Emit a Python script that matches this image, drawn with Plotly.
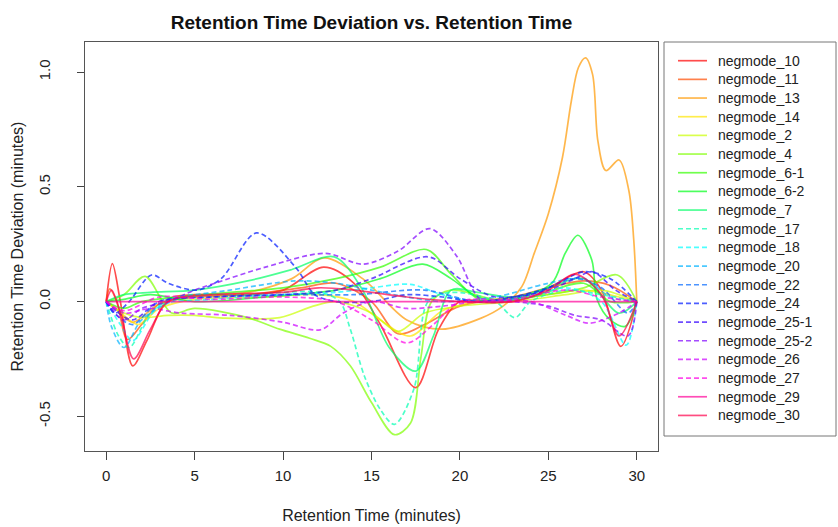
import colorsys
import plotly.graph_objects as go

# ---------------- data ----------------
SAMPLES = ["negmode_10", "negmode_11", "negmode_13", "negmode_14", "negmode_2",
           "negmode_4", "negmode_6-1", "negmode_6-2", "negmode_7", "negmode_17",
           "negmode_18", "negmode_20", "negmode_22", "negmode_24", "negmode_25-1",
           "negmode_25-2", "negmode_26", "negmode_27", "negmode_29", "negmode_30"]

rt_10 = [0, 0.35, 0.8, 1.5, 2.3, 3.5, 5, 8, 10, 12.3, 14, 15.5, 17.5, 18.8, 20, 22, 24, 25.5, 27, 28, 29.1, 30]
dev_10 = [0, 0.165, 0.0, -0.28, -0.17, 0.01, 0.03, 0.03, 0.05, 0.15, 0.08, -0.1, -0.375, -0.12, 0.0, 0.0, 0.02, 0.08, 0.13, 0.05, -0.195, 0]

rt_11 = [0, 0.2, 0.6, 1.2, 2, 3, 5, 8, 11, 13, 15, 16.5, 18, 20, 23, 25, 27, 28.5, 30]
dev_11 = [0, 0.055, 0.0, -0.165, -0.1, -0.01, 0.02, 0.03, 0.06, 0.08, 0.0, -0.14, -0.1, -0.02, 0.02, 0.06, 0.09, 0.07, 0]

rt_13 = [0, 0.5, 1.5, 3, 5, 8, 10.5, 12.3, 14.5, 17, 19, 21.2, 22.4, 23.5, 24.2, 25, 25.8, 26.3, 26.7, 27.1, 27.5, 27.8, 28.25, 29, 29.55, 29.83, 30]
dev_13 = [0, -0.03, -0.09, -0.01, 0.02, 0.04, 0.1, 0.19, 0.1, -0.08, -0.12, -0.072, -0.022, 0.065, 0.21, 0.383, 0.629, 0.874, 1.02, 1.062, 0.99, 0.70, 0.571, 0.617, 0.484, 0.267, 0]

rt_14 = [0, 0.7, 1.8, 3, 5, 9, 12, 14, 15.5, 17.2, 19, 21, 24, 27, 29, 30]
dev_14 = [0, -0.04, -0.1, -0.03, 0.01, 0.02, 0.03, 0.0, -0.08, -0.15, -0.04, 0.0, 0.02, 0.05, 0.02, 0]

rt_2 = [0, 1, 2, 3.5, 5, 6.6, 9.8, 11.7, 13, 15, 16.5, 18, 20, 23, 26, 28, 30]
dev_2 = [0, -0.05, -0.07, -0.06, -0.06, -0.072, -0.07, -0.02, 0.0, -0.05, -0.13, -0.05, -0.02, 0.0, 0.03, 0.05, 0]

rt_4 = [0, 1, 2.2, 3.7, 5, 8, 9.8, 11.5, 12.7, 13.8, 15, 16.3, 17.2, 17.8, 18.4, 19.5, 22, 25, 27, 28.9, 30]
dev_4 = [0, 0.03, 0.11, -0.05, -0.03, -0.07, -0.12, -0.16, -0.195, -0.28, -0.44, -0.58, -0.53, -0.24, 0.0, 0.05, 0.01, 0.03, 0.06, 0.116, 0]

rt_6_1 = [0, 1, 2, 4, 7, 10, 13, 15.5, 18.1, 19.5, 21.2, 24, 27, 28.5, 30]
dev_6_1 = [0, -0.03, 0.0, 0.02, 0.04, 0.06, 0.1, 0.15, 0.227, 0.12, 0.005, 0.02, 0.08, 0.0, 0]

rt_6_2 = [0, 1, 2.5, 5, 9, 13, 15.5, 17.9, 19.5, 21, 23, 25.2, 25.95, 26.67, 27.46, 27.75, 28.5, 29.35, 30]
dev_6_2 = [0, 0.01, 0.03, 0.0, 0.02, 0.05, 0.1, 0.163, 0.1, 0.02, 0.01, 0.08, 0.21, 0.289, 0.18, 0.01, -0.08, -0.108, 0]

rt_7 = [0, 1, 2.5, 5, 8, 10.5, 12.9, 14.5, 16, 17.5, 18.5, 19.5, 21, 23, 25, 27, 29, 30]
dev_7 = [0, 0.03, 0.04, 0.05, 0.09, 0.14, 0.195, 0.05, -0.2, -0.303, -0.15, 0.05, 0.04, 0.02, 0.06, 0.1, -0.05, 0]

rt_17 = [0, 0.7, 1.3, 2.5, 4, 8, 12, 13.2, 13.8, 14.6, 15.5, 16.3, 17.4, 18.2, 19.5, 22, 23.1, 24, 26, 28, 30]
dev_17 = [0, -0.15, -0.2, -0.05, 0.02, 0.03, 0.04, 0.0, -0.12, -0.325, -0.47, -0.535, -0.38, 0.0, 0.04, 0.0, -0.07, 0.0, 0.05, 0.03, 0]

rt_18 = [0, 0.8, 1.5, 3, 6, 10, 13, 15, 17.2, 19, 21, 24, 26, 28, 29.4, 30]
dev_18 = [0, -0.1, -0.17, -0.02, 0.01, 0.03, 0.04, 0.06, 0.075, 0.03, 0.0, 0.02, 0.06, 0.0, -0.19, 0]

rt_20 = [0, 0.3, 1.0, 2, 4, 7, 10.7, 13, 15, 17, 19, 22, 25, 27, 28.5, 30]
dev_20 = [0, -0.11, -0.2, -0.08, 0.01, 0.05, 0.09, 0.08, 0.05, 0.02, 0.0, 0.02, 0.08, 0.1, 0.02, 0]

rt_22 = [0, 0.6, 1.5, 3, 6, 10, 14, 18, 21, 24, 26.5, 28, 29.5, 30]
dev_22 = [0, -0.06, -0.1, 0.0, 0.02, 0.03, 0.03, 0.05, 0.0, 0.03, 0.1, 0.06, -0.05, 0]

rt_24 = [0, 0.5, 1.3, 2.56, 3.5, 5.1, 6.5, 8.5, 10.7, 11.8, 13, 15, 17, 19, 21, 23, 25, 27, 28.5, 30]
dev_24 = [0, -0.05, 0.0, 0.116, 0.08, 0.05, 0.1, 0.299, 0.15, 0.03, 0.0, 0.0, 0.03, 0.02, 0.0, 0.02, 0.06, 0.13, 0.1, 0]

rt_25_1 = [0, 0.7, 1.5, 3, 6, 10, 13, 15, 18.2, 20, 22, 25, 26.5, 27.5, 28.8, 30]
dev_25_1 = [0, -0.05, -0.08, 0.0, 0.02, 0.03, 0.05, 0.1, 0.195, 0.1, 0.02, 0.05, 0.1, 0.13, 0.05, 0]

rt_25_2 = [0, 1, 2, 3.5, 5, 6.15, 9, 12.4, 14.5, 16.5, 18.3, 19.8, 21.2, 23, 25, 26.5, 28, 29.5, 30]
dev_25_2 = [0, -0.08, -0.03, 0.0, 0.05, 0.08, 0.15, 0.21, 0.163, 0.22, 0.318, 0.2, 0.007, 0.0, -0.02, -0.06, -0.08, -0.15, 0]

rt_26 = [0, 1, 2.5, 4.2, 7, 10, 12.1, 13.4, 15, 17, 19, 21, 24, 26, 27.3, 29, 30]
dev_26 = [0, -0.05, -0.03, -0.05, -0.06, -0.09, -0.123, -0.05, 0.0, -0.03, -0.02, 0.0, 0.0, -0.06, -0.094, -0.05, 0]

rt_27 = [0, 1, 3, 6, 10, 13, 15, 17, 18.5, 20, 23, 26, 28, 30]
dev_27 = [0, -0.04, 0.02, 0.01, 0.02, 0.0, -0.08, -0.18, -0.1, 0.0, 0.01, 0.05, 0.02, 0]

rt_29 = [0, 10, 20, 30]
dev_29 = [0, 0, 0, 0]

rt_30 = [0, 0.3, 0.8, 1.55, 2.5, 3.5, 6, 10, 12, 14, 17, 20, 23, 25, 26.5, 28, 29, 30]
dev_30 = [0, 0.05, -0.05, -0.25, -0.12, 0.0, 0.03, 0.04, 0.06, 0.05, 0.02, 0.0, 0.0, 0.05, 0.12, 0.03, -0.15, 0]

RT = [rt_10, rt_11, rt_13, rt_14, rt_2, rt_4, rt_6_1, rt_6_2, rt_7, rt_17,
      rt_18, rt_20, rt_22, rt_24, rt_25_1, rt_25_2, rt_26, rt_27, rt_29, rt_30]
DEV = [dev_10, dev_11, dev_13, dev_14, dev_2, dev_4, dev_6_1, dev_6_2, dev_7, dev_17,
       dev_18, dev_20, dev_22, dev_24, dev_25_1, dev_25_2, dev_26, dev_27, dev_29, dev_30]

X_TICKS = [0, 5, 10, 15, 20, 25, 30]
Y_TICKS = [-0.5, 0, 0.5, 1.0]
Y_TICK_TEXT = ["-0.5", "0.0", "0.5", "1.0"]

# ---------------- styling ----------------
def rainbow(i, n, alpha):
    r, g, b = colorsys.hsv_to_rgb(i / n, 1.0, 1.0)
    return f"rgba({int(r*255)},{int(g*255)},{int(b*255)},{alpha})"

DASHED = set(range(9, 18))
DASH = "5px,3px"

W, H = 838, 527
L, R, T, B = 85, 180, 42, 76
PW, PH = W - L - R, H - T - B


def px_to_paper_x(px):
    return (px - L) / PW


def px_to_paper_y(py):
    return (H - B - py) / PH


fig = go.Figure()
for i, name in enumerate(SAMPLES):
    fig.add_trace(go.Scatter(
        x=RT[i], y=DEV[i], mode="lines", name=name,
        line=dict(color=rainbow(i, len(SAMPLES), 0.7), width=1.7,
                  shape="spline", smoothing=0.9,
                  dash=DASH if i in DASHED else "solid"),
    ))

FONT = "Liberation Sans, Arial, sans-serif"

# legend drawn as a boxed key on the right (R-style)
shapes = [dict(type="rect", xref="paper", yref="paper",
               x0=px_to_paper_x(664), x1=px_to_paper_x(836),
               y0=px_to_paper_y(436), y1=px_to_paper_y(42),
               line=dict(color="#777", width=1), fillcolor="white", layer="below")]
annotations = []
for i, name in enumerate(SAMPLES):
    yy = px_to_paper_y(60.7 + 18.67 * i)
    shapes.append(dict(type="line", xref="paper", yref="paper",
                       x0=px_to_paper_x(678), x1=px_to_paper_x(707), y0=yy, y1=yy,
                       line=dict(color=rainbow(i, len(SAMPLES), 0.7), width=1.7,
                                 dash=DASH if i in DASHED else "solid")))
    annotations.append(dict(text=name, xref="paper", yref="paper",
                            x=px_to_paper_x(716), y=yy, xanchor="left", yanchor="middle",
                            showarrow=False, font=dict(size=14, color="#222", family=FONT)))

fig.update_layout(
    width=W, height=H,
    margin=dict(l=L, r=R, t=T, b=B),
    paper_bgcolor="white", plot_bgcolor="white",
    font=dict(family=FONT, size=15, color="#222"),
    title=dict(text="<b>Retention Time Deviation vs. Retention Time</b>",
               x=371.5 / W, xanchor="center", y=1 - 22 / H, yanchor="middle",
               font=dict(size=19, color="#111")),
    xaxis=dict(range=[-1.2, 31.2], tickvals=X_TICKS,
               ticks="outside", ticklen=8, tickcolor="#444", tickwidth=1.2,
               showline=True, mirror=True, linecolor="#555", linewidth=1.3,
               showgrid=False, zeroline=False, ticklabelstandoff=3, automargin=False,
               tickfont=dict(size=15),
               title=dict(text="Retention Time (minutes)", standoff=26,
                          font=dict(size=16))),
    yaxis=dict(range=[-0.651, 1.131], tickvals=Y_TICKS,
               ticktext=Y_TICK_TEXT, tickangle=-90,
               ticks="outside", ticklen=7, tickcolor="#444", tickwidth=1.2,
               showline=True, mirror=True, linecolor="#555", linewidth=1.3,
               showgrid=False, zeroline=False, ticklabelstandoff=21, automargin=False,
               tickfont=dict(size=15),
               title=dict(text="Retention Time Deviation (minutes)", standoff=8,
                          font=dict(size=16))),
    shapes=shapes,
    annotations=annotations,
    showlegend=False,
)

fig.write_html("out.html", config={"displayModeBar": False},
               post_script="document.body.style.margin='0';document.body.style.padding='0';")
